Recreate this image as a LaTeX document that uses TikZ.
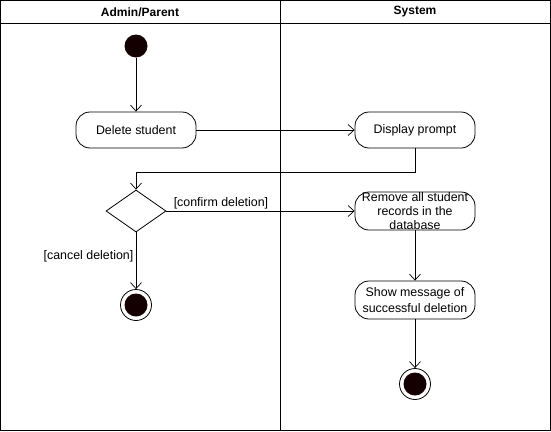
\documentclass[tikz,border=0pt]{standalone}
\usepackage{fontspec}
\setmainfont{Liberation Sans}
\usetikzlibrary{shapes.geometric,arrows.meta}
\definecolor{dotfill}{RGB}{20,0,0}
\begin{document}
\begin{tikzpicture}[x=1pt,y=-1pt,
  every node/.style={font=\fontsize{12.4}{14.5}\selectfont},
  act/.style={draw,line width=0.8pt,rounded corners=14pt,minimum width=120pt,align=center,inner sep=1pt},
  dec/.style={draw,line width=0.8pt,diamond,minimum width=60pt,minimum height=42pt,inner sep=0pt,aspect=1.43},
  startdot/.style={circle,fill=dotfill,minimum size=23pt,inner sep=0pt},
  enddot/.style={circle,draw,line width=0.8pt,minimum size=31pt,inner sep=0pt,
    path picture={\fill[dotfill] (path picture bounding box.center) circle (11.5pt);}},
  flow/.style={line width=0.7pt,-{Straight Barb[length=6pt,width=11pt,line width=0.7pt]}},
  hdr/.style={font=\fontsize{12}{12}\selectfont\bfseries}]
\useasboundingbox (0,0) rectangle (551,431);
% swimlanes
\draw[line width=0.8pt] (0.5,0.5) rectangle (550.5,430.5);
\draw[line width=0.8pt] (0.5,23.5) -- (550.5,23.5);
\draw[line width=0.8pt] (280.5,0.5) -- (280.5,430.5);
\node[hdr] (h1) at (140,12) {Admin/Parent};
\node[hdr] (h2) at (415,12) {System};
% nodes
\node[startdot] (start) at (136,46) {};
\node[act,minimum height=36pt] (del) at (136,130) {Delete student};
\node[act,minimum height=36pt] (disp) at (415,130) {Display prompt};
\node[dec] (d) at (136,211) {};
\node[act,minimum height=38pt,inner sep=0pt,font=\fontsize{12.4}{14}\selectfont] (rem) at (415,211) {Remove all student\\records in the\\database};
\node[act,minimum height=38pt,font=\fontsize{12.4}{15.5}\selectfont] (show) at (415,300) {Show message of\\successful deletion};
\node[enddot] (end1) at (136,305) {};
\node[enddot] (end2) at (415,384) {};
\coordinate (c1) at (415,172);
\coordinate (c2) at (136,172);
% flows
\draw[flow] (start) -- (del);
\draw[flow] (del) -- (disp);
\draw[flow] (disp.south) -- (c1) -- (c2) -- (d.north);
\draw[flow] (d.east) -- node[above,pos=0.29,inner sep=2pt] {[confirm deletion]} (rem.west);
\draw[flow] (d.south) -- node[left,pos=0.42,xshift=1pt] {[cancel deletion]} (end1);
\draw[flow] (rem) -- (show);
\draw[flow] (show) -- (end2);
\end{tikzpicture}
\end{document}
